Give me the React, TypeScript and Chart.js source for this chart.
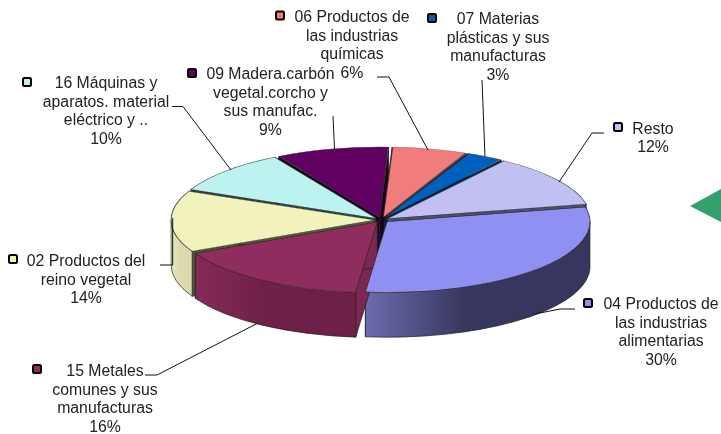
import React, { useEffect, useRef } from "react";
import Chart from "chart.js/auto";

const categories = [
  "06 Productos de\nlas industrias\nquímicas",
  "07 Materias\nplásticas y sus\nmanufacturas",
  "Resto",
  "04 Productos de\nlas industrias\nalimentarias",
  "15 Metales\ncomunes y sus\nmanufacturas",
  "02 Productos del\nreino vegetal",
  "16 Máquinas y\naparatos. material\neléctrico y ..",
  "09 Madera.carbón\nvegetal.corcho y\nsus manufac.",
];
const values = [6, 3, 12, 30, 16, 14, 10, 9];

const topColors = ["#F27C7C", "#0060C0", "#C0C0F2", "#9090F2", "#8F2D5F", "#F2F2BD", "#BCF2F0", "#600060"];
const faceColors = ["#6A3434", "#00204E", "#50506C", "#30305A", "#7C2652", "#555838", "#2C4A4A", "#1C001C"];
const wallStart = ["#A05050", "#004080", "#8080A8", "#6C6CAC", "#852A58", "#E8E8C0", "#80A8A8", "#400040"];
const wallEnd = ["#A05050", "#004080", "#8080A8", "#36365E", "#6E2048", "#DADAAE", "#80A8A8", "#400040"];

// label layout: centre x, first-line y, line spacing, marker x, marker y
const labelBoxes = [
  [352, 18, 18.4, 280, 15.5],
  [498, 19.5, 18.8, 432, 18],
  [653, 129.5, 18.5, 618, 127],
  [661, 304.5, 18.8, 588, 303],
  [105, 372, 18.5, 37, 369],
  [86, 262, 18.5, 13, 259],
  [106, 84, 18.4, 27, 82],
  [270.5, 75, 18.5, 192, 73],
];
const leaders = [
  [[377, 77], [389, 77], [428, 150]],
  [[482, 80], [485, 157]],
  [[604, 133], [592, 133], [559, 182]],
  [[575, 309], [560, 309], [535, 314]],
  [[145, 375], [157, 375], [258, 323]],
  [[160, 265], [172.7, 265], [172.7, 218]],
  [[172, 106.5], [183, 106.5], [231, 170]],
  [[333, 116], [334.5, 149]],
];

const PIE = { cx: 381.5, cy: 220, rx: 203, ry: 70.5, depth: 45 };
const RADIUS = 200;
const OFFSET = 29;

const pie3d = {
  id: "pie3d",
  afterDatasetsUpdate(chart: any) {
    // the arc element widens narrow slices by its offset; take that back out
    chart.getDatasetMeta(0).data.forEach((arc: any) => {
      const off = (arc.options.offset || 0) / 4;
      const fix = 1 - Math.sin(Math.min(Math.PI, arc.endAngle - arc.startAngle));
      arc.outerRadius = RADIUS - off * fix;
    });
  },
  beforeDatasetsDraw(chart: any) {
    const { ctx } = chart;
    const arcs = chart.getDatasetMeta(0).data;
    const sx = PIE.rx / RADIUS;
    const sy = PIE.ry / RADIUS;
    const items = arcs.map((arc: any, i: number) => {
      const a0 = arc.startAngle;
      const a1 = arc.endAngle;
      const mid = (a0 + a1) / 2;
      const off = (arc.options.offset || 0) / 4;
      const fix = 1 - Math.sin(Math.min(Math.PI, a1 - a0));
      const r = arc.outerRadius + off * fix;
      const X = PIE.cx + Math.cos(mid) * off * sx;
      const Y = PIE.cy + Math.sin(mid) * off * sy;
      return { i, a0, a1, mid, r, X, Y };
    });
    items.sort((p: any, q: any) => Math.sin(p.mid) - Math.sin(q.mid));
    ctx.save();
    ctx.lineWidth = 0.8;
    ctx.strokeStyle = "rgba(30,30,30,0.85)";
    for (const s of items) {
      const rx = s.r * sx;
      const ry = s.r * sy;
      const face = (ang: number) => {
        const ex = s.X + Math.cos(ang) * rx;
        const ey = s.Y + Math.sin(ang) * ry;
        ctx.beginPath();
        ctx.moveTo(s.X, s.Y);
        ctx.lineTo(ex, ey);
        ctx.lineTo(ex, ey + PIE.depth);
        ctx.lineTo(s.X, s.Y + PIE.depth);
        ctx.closePath();
        ctx.fillStyle = faceColors[s.i];
        ctx.fill();
        ctx.stroke();
      };
      face(s.a0);
      face(s.a1);
      const from = Math.max(s.a0, 0);
      const to = Math.min(s.a1, Math.PI);
      if (to > from) {
        const x0 = s.X + Math.cos(to) * rx;
        const x1 = s.X + Math.cos(from) * rx;
        const g = ctx.createLinearGradient(x0, 0, x1, 0);
        g.addColorStop(0, wallStart[s.i]);
        g.addColorStop(0.45, wallEnd[s.i]);
        g.addColorStop(1, wallEnd[s.i]);
        ctx.beginPath();
        ctx.ellipse(s.X, s.Y, rx, ry, 0, from, to);
        ctx.ellipse(s.X, s.Y + PIE.depth, rx, ry, 0, to, from, true);
        ctx.closePath();
        ctx.fillStyle = g;
        ctx.fill();
        ctx.stroke();
      }
    }
    ctx.restore();
    const arc0 = arcs[0];
    ctx.save();
    ctx.translate(PIE.cx, PIE.cy);
    ctx.scale(sx, sy);
    ctx.translate(-arc0.x, -arc0.y);
  },
  afterDatasetsDraw(chart: any) {
    const { ctx } = chart;
    ctx.restore();
    ctx.save();
    // leader lines
    ctx.strokeStyle = "#111";
    ctx.lineWidth = 1;
    leaders.forEach((pts) => {
      ctx.beginPath();
      pts.forEach((p, k) => (k ? ctx.lineTo(p[0], p[1]) : ctx.moveTo(p[0], p[1])));
      ctx.stroke();
    });
    // labels and markers
    ctx.font = '15.8px "Liberation Sans", Arial, sans-serif';
    ctx.textAlign = "center";
    ctx.textBaseline = "middle";
    categories.forEach((name, i) => {
      const [x, y, lh, mx, my] = labelBoxes[i];
      const lines = [...name.split("\n"), `${values[i]}%`];
      ctx.fillStyle = "#222";
      lines.forEach((t, k) => ctx.fillText(t, x, y + k * lh));
      ctx.beginPath();
      ctx.roundRect(mx - 4, my - 4, 8, 8, 1.5);
      ctx.fillStyle = topColors[i];
      ctx.strokeStyle = "#000";
      ctx.lineWidth = 2;
      ctx.fill();
      ctx.stroke();
    });
    // green arrow tip at the right edge
    ctx.beginPath();
    ctx.moveTo(690, 206);
    ctx.lineTo(721, 189);
    ctx.lineTo(721, 222);
    ctx.closePath();
    ctx.fillStyle = "#35A06E";
    ctx.fill();
    ctx.restore();
  },
};

export default function App() {
  const ref = useRef<HTMLCanvasElement>(null);
  useEffect(() => {
    const chart = new Chart(ref.current!, {
      type: "pie",
      data: {
        labels: categories,
        datasets: [
          {
            data: values,
            backgroundColor: topColors,
            borderColor: "rgba(40,40,40,0.8)",
            borderWidth: 1,
            offset: OFFSET,
            hoverOffset: 0,
          },
        ],
      },
      options: {
        animation: false,
        responsive: false,
        rotation: 2.5,
        radius: RADIUS,
        layout: { padding: 0 },
        events: [],
        plugins: { legend: { display: false }, tooltip: { enabled: false }, title: { display: false } },
      },
      plugins: [pie3d],
    } as any);
    return () => chart.destroy();
  }, []);
  return (
    <div style={{ position: "absolute", left: 0, top: 0, width: 721, height: 434, background: "#fff" }}>
      <canvas ref={ref} width={721} height={434} style={{ display: "block" }} />
    </div>
  );
}
